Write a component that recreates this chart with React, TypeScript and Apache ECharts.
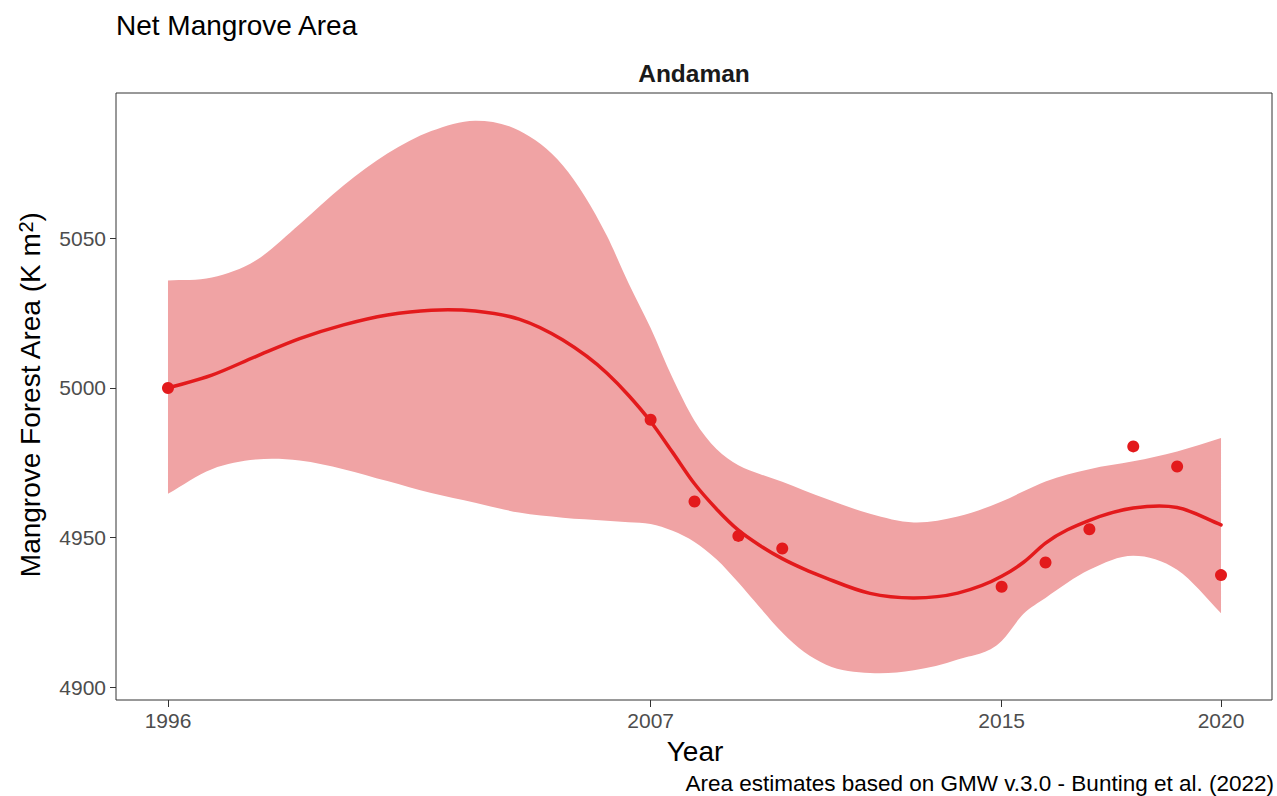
import React, { useEffect, useRef } from "react";
import * as echarts from "echarts";

// Loess fit (year -> area)
const fitYears = [1996, 1997, 1998, 1999, 2000, 2001, 2002, 2003, 2004, 2005, 2006, 2006.5, 2007, 2007.5, 2008, 2008.5, 2009, 2009.5, 2010, 2010.5, 2011, 2012, 2013, 2014, 2015, 2015.5, 2016, 2017, 2018, 2019, 2020];
const fitValues = [5000.0, 5004.3, 5010.5, 5016.5, 5021.1, 5024.4, 5026.0, 5025.7, 5023.0, 5016.0, 5005.0, 4997.5, 4988.8, 4978.5, 4968.0, 4959.6, 4952.5, 4947.3, 4943.0, 4939.5, 4936.5, 4931.4, 4929.9, 4931.5, 4937.1, 4941.8, 4948.2, 4955.8, 4959.9, 4960.1, 4954.3];
const bandUpper = [5035.9, 5036.9, 5042.6, 5054.7, 5067.6, 5078.3, 5085.8, 5089.3, 5086.0, 5074.3, 5050.9, 5034.9, 5020.0, 5003.3, 4989.1, 4979.6, 4974.2, 4971.2, 4968.7, 4965.8, 4963.0, 4958.0, 4955.1, 4957.1, 4962.1, 4965.5, 4968.8, 4972.9, 4975.5, 4978.8, 4983.3];
const bandLower = [4964.7, 4972.9, 4976.1, 4975.8, 4972.9, 4968.9, 4964.9, 4961.7, 4958.4, 4956.7, 4955.7, 4955.2, 4954.6, 4952.3, 4948.6, 4942.8, 4935.0, 4926.5, 4918.3, 4911.8, 4907.6, 4904.8, 4905.7, 4909.3, 4915.5, 4924.6, 4929.9, 4939.3, 4944.0, 4939.3, 4924.8];

// Observed points
const pointYears = [1996, 2007, 2008, 2009, 2010, 2015, 2016, 2017, 2018, 2019, 2020];
const pointValues = [5000.0, 4989.4, 4962.1, 4950.6, 4946.4, 4933.6, 4941.7, 4952.8, 4980.5, 4973.8, 4937.5];

// Tick labels
const xTickLabels = [1996, 2007, 2015, 2020];
const yTickLabels = [4900, 4950, 5000, 5050];

const FONT = '"Liberation Sans", Arial, Helvetica, sans-serif';
const RED = "#e31a1c";
const BAND = "#f0a3a4";

// Cubic Hermite (C1) curve through screen points, written as SVG path commands
function curveThrough(pts: number[][], start: "M" | "L"): string {
  const n = pts.length;
  const m: number[] = [];
  for (let i = 0; i < n; i++) {
    if (i === 0) {
      m.push((pts[1][1] - pts[0][1]) / (pts[1][0] - pts[0][0]));
    } else if (i === n - 1) {
      m.push((pts[n - 1][1] - pts[n - 2][1]) / (pts[n - 1][0] - pts[n - 2][0]));
    } else {
      const h0 = pts[i][0] - pts[i - 1][0];
      const h1 = pts[i + 1][0] - pts[i][0];
      const d0 = (pts[i][1] - pts[i - 1][1]) / h0;
      const d1 = (pts[i + 1][1] - pts[i][1]) / h1;
      m.push((d0 * h1 + d1 * h0) / (h0 + h1));
    }
  }
  let d = `${start}${pts[0][0].toFixed(2)} ${pts[0][1].toFixed(2)}`;
  for (let i = 0; i < n - 1; i++) {
    const h = pts[i + 1][0] - pts[i][0];
    const c1x = pts[i][0] + h / 3;
    const c1y = pts[i][1] + (m[i] * h) / 3;
    const c2x = pts[i + 1][0] - h / 3;
    const c2y = pts[i + 1][1] - (m[i + 1] * h) / 3;
    d += ` C${c1x.toFixed(2)} ${c1y.toFixed(2)} ${c2x.toFixed(2)} ${c2y.toFixed(2)} ${pts[i + 1][0].toFixed(2)} ${pts[i + 1][1].toFixed(2)}`;
  }
  return d;
}

export default function App() {
  const ref = useRef<HTMLDivElement>(null);

  useEffect(() => {
    if (!ref.current) return;
    const chart = echarts.init(ref.current, null, { renderer: "svg" });

    const pointData = pointYears.map((x, i) => [x, pointValues[i]]);

    const renderSmooth = (_params: any, api: any) => {
      const up = fitYears.map((x, i) => api.coord([x, bandUpper[i]]));
      const lo = fitYears.map((x, i) => api.coord([x, bandLower[i]])).reverse();
      const fit = fitYears.map((x, i) => api.coord([x, fitValues[i]]));
      const bandPath = curveThrough(up, "M") + " " + curveThrough(lo, "L") + " Z";
      const fitPath = curveThrough(fit, "M");
      return {
        type: "group",
        children: [
          {
            type: "path",
            shape: { pathData: bandPath },
            style: { fill: BAND, stroke: "none" },
            z2: 1,
          },
          {
            type: "path",
            shape: { pathData: fitPath },
            style: { fill: "none", stroke: RED, lineWidth: 3.5, lineCap: "round", lineJoin: "round" },
            z2: 2,
          },
        ],
      };
    };

    chart.setOption({
      animation: false,
      backgroundColor: "#ffffff",
      grid: {
        left: 116,
        top: 93,
        right: 5,
        bottom: 96,
        show: true,
        borderColor: "#333333",
        borderWidth: 1,
        backgroundColor: "#ffffff",
      },
      xAxis: {
        type: "value",
        min: 1994.815,
        max: 2021.162,
        splitLine: { show: false },
        axisLine: { show: false },
        axisTick: {
          show: true,
          customValues: xTickLabels,
          length: 7,
          lineStyle: { color: "#333333", width: 1 },
        },
        axisLabel: {
          customValues: xTickLabels,
          fontSize: 21,
          color: "#4d4d4d",
          fontFamily: FONT,
          margin: 10,
          formatter: (v: number) => String(v),
        },
      },
      yAxis: {
        type: "value",
        min: 4895.79,
        max: 5098.53,
        splitLine: { show: false },
        axisLine: { show: false },
        axisTick: {
          show: true,
          customValues: yTickLabels,
          length: 6,
          lineStyle: { color: "#333333", width: 1 },
        },
        axisLabel: {
          customValues: yTickLabels,
          fontSize: 21,
          color: "#4d4d4d",
          fontFamily: FONT,
          margin: 10,
          formatter: (v: number) => String(v),
        },
      },
      series: [
        {
          type: "custom",
          data: [[fitYears[0], fitValues[0]]],
          renderItem: renderSmooth,
          silent: true,
          z: 2,
        },
        {
          type: "scatter",
          data: pointData,
          symbol: "circle",
          symbolSize: 12,
          silent: true,
          itemStyle: { color: RED, opacity: 1 },
          z: 4,
        },
      ],
      graphic: [
        {
          type: "text",
          x: 116,
          y: 25.5,
          style: {
            text: "Net Mangrove Area",
            fontSize: 28,
            fontFamily: FONT,
            fill: "#000000",
            align: "left",
            verticalAlign: "middle",
          },
        },
        {
          type: "text",
          x: 694,
          y: 73.3,
          style: {
            text: "Andaman",
            fontSize: 24.5,
            fontWeight: "bold",
            fontFamily: FONT,
            fill: "#1a1a1a",
            align: "center",
            verticalAlign: "middle",
          },
        },
        {
          type: "text",
          x: 695,
          y: 751.3,
          style: {
            text: "Year",
            fontSize: 28,
            fontFamily: FONT,
            fill: "#000000",
            align: "center",
            verticalAlign: "middle",
          },
        },
        {
          type: "text",
          x: 1274,
          y: 783.5,
          style: {
            text: "Area estimates based on GMW v.3.0 - Bunting et al. (2022)",
            fontSize: 22.5,
            fontFamily: FONT,
            fill: "#000000",
            align: "right",
            verticalAlign: "middle",
          },
        },
        {
          type: "text",
          x: 30,
          y: 395,
          rotation: Math.PI / 2,
          style: {
            text: "{a|Mangrove Forest Area (K m}{s|2}{a|)}",
            align: "center",
            verticalAlign: "middle",
            rich: {
              a: { fontSize: 28, fontFamily: FONT, fill: "#000000" },
              s: { fontSize: 20, fontFamily: FONT, fill: "#000000", verticalAlign: "top" },
            },
          },
        },
      ],
    });

    return () => {
      chart.dispose();
    };
  }, []);

  return (
    <div
      ref={ref}
      style={{ position: "fixed", left: 0, top: 0, width: "1277px", height: "796px" }}
    />
  );
}
